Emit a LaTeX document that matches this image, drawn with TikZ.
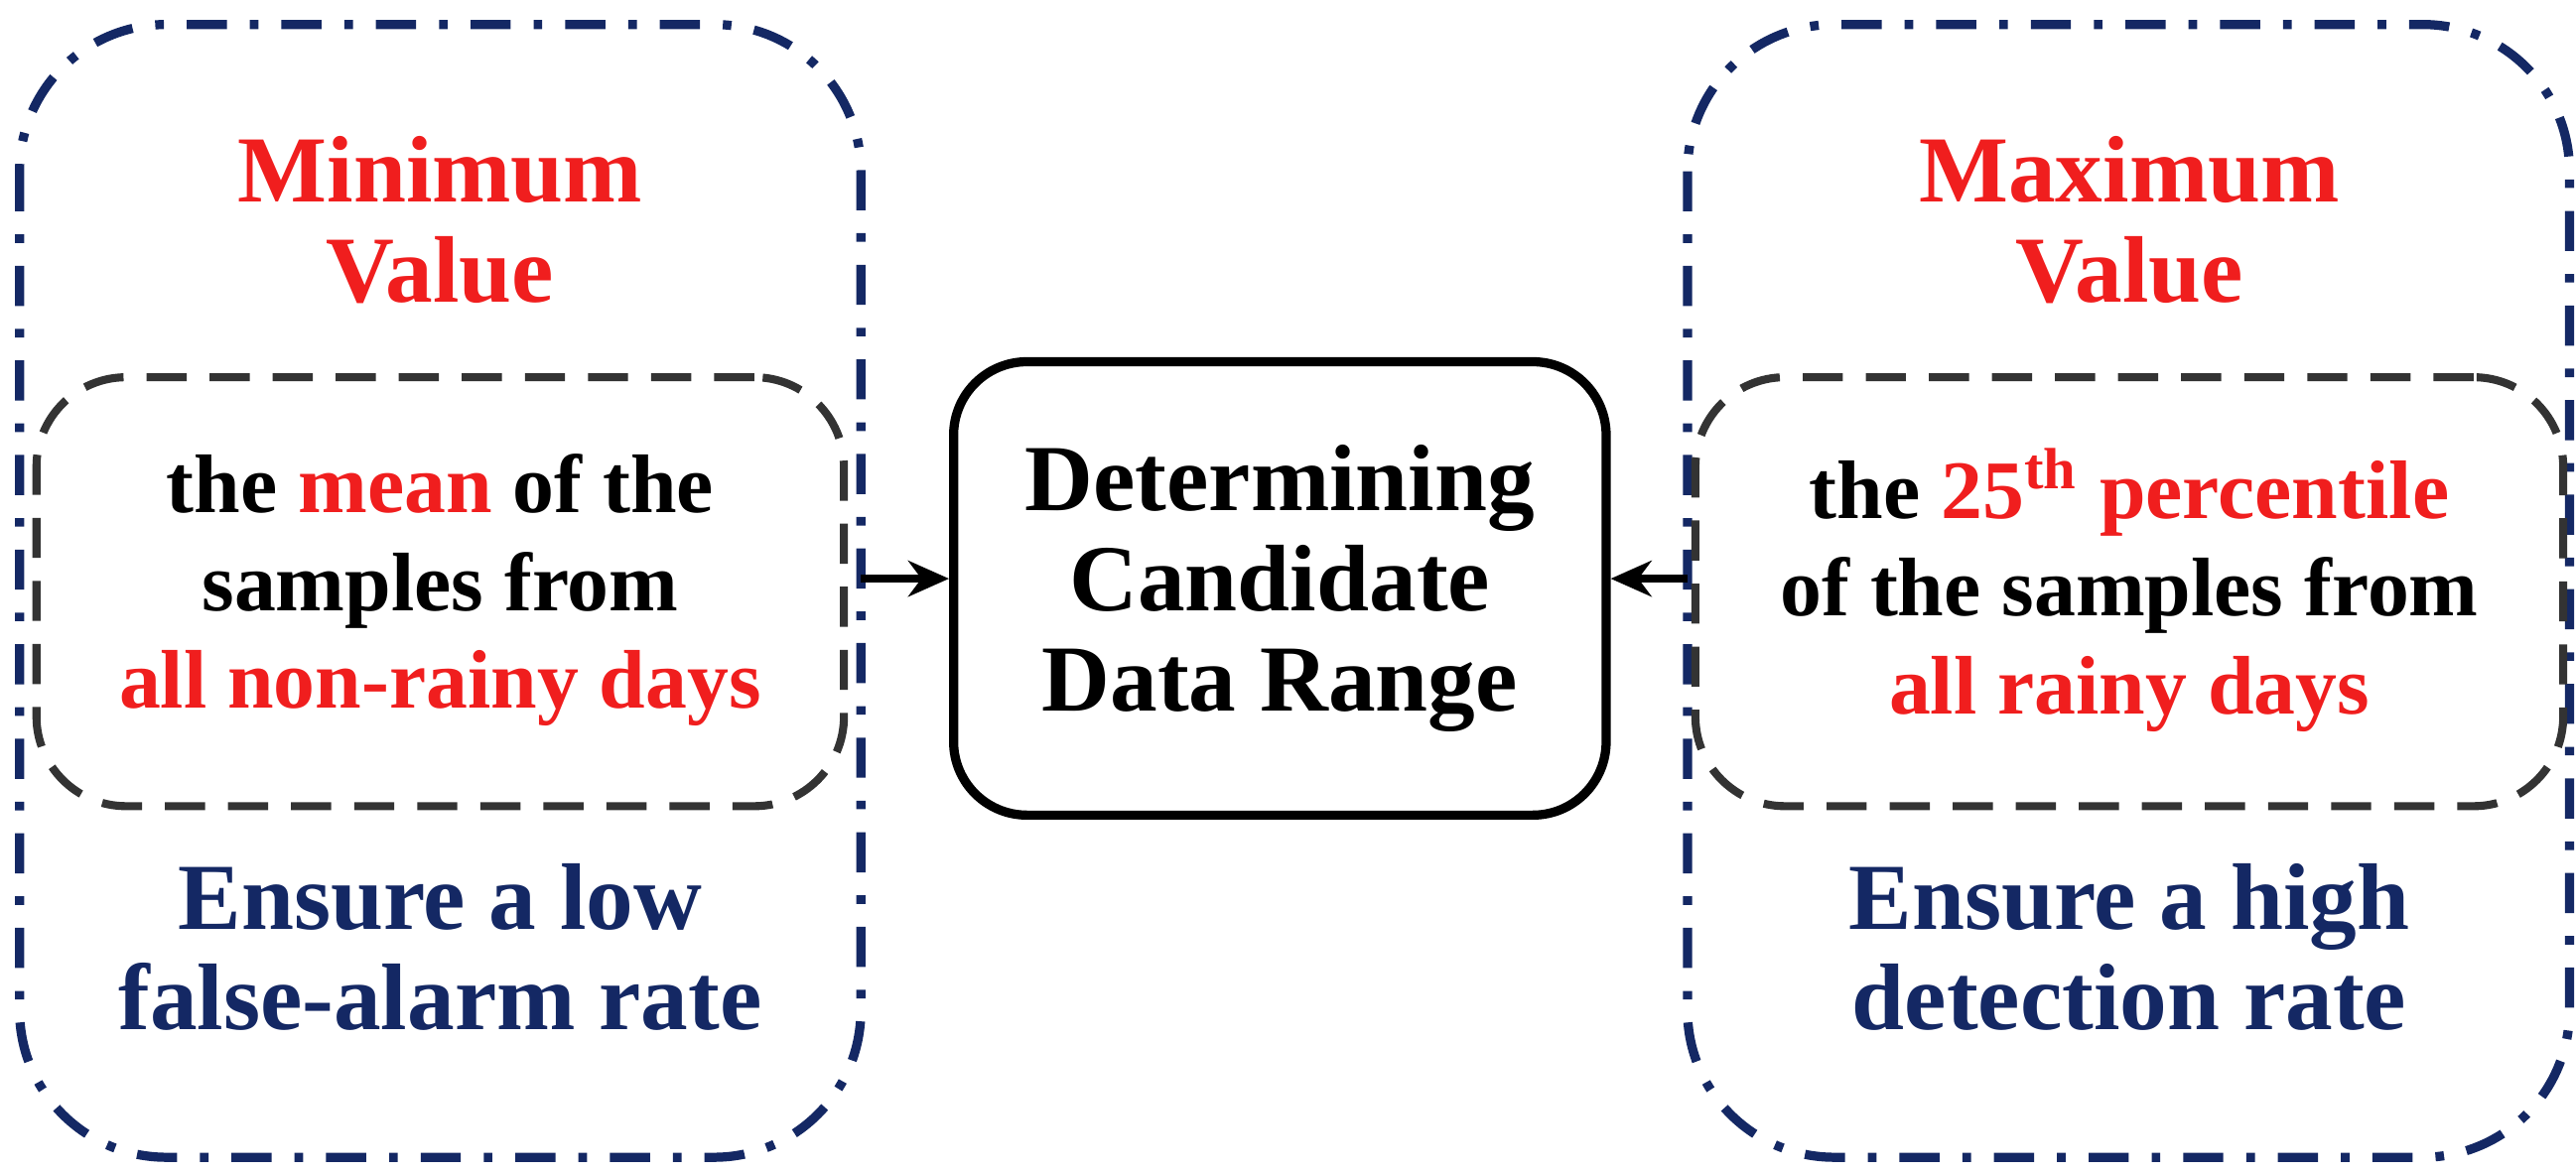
\documentclass[tikz,border=0pt]{standalone}
\usepackage{fontspec}
\setmainfont{Liberation Serif}
\usetikzlibrary{arrows.meta, positioning}
\definecolor{navy}{RGB}{20,40,100}
\definecolor{hired}{RGB}{240,30,30}
\tikzset{
  outer/.style={draw=navy, line width=1.6pt, dash pattern=on 7pt off 4pt on 1.5pt off 4pt, rounded corners=0.9cm},
  inner/.style={draw=black!80, line width=1.4pt, dash pattern=on 7pt off 4pt, rounded corners=0.55cm},
  core/.style={draw=black, line width=1.6pt, rounded corners=0.45cm},
  txt/.style={align=center, font=\bfseries\fontsize{14.5}{17}\selectfont},
  big/.style={align=center, font=\bfseries\fontsize{16.5}{17.5}\selectfont},
  arrow/.style={line width=1.3pt, -{Stealth[length=2.5mm,width=2.2mm]}}
}
\begin{document}
\begin{tikzpicture}[x=0.01cm, y=-0.01cm]
    \useasboundingbox (0,0) rectangle (1580,720);
    % frames
    \draw[outer] (12,15) rectangle (528,710);
    \draw[outer] (1035,15) rectangle (1576,710);
    \node (minbox) [inner, minimum width=4.95cm, minimum height=2.63cm] at (270,363) {};
    \node (maxbox) [inner, minimum width=5.32cm, minimum height=2.63cm] at (1306,363) {};
    \node (range) [core, big, minimum width=4.0cm, minimum height=2.78cm] at (785,361)
      {Determining\\Candidate\\Data Range};

    % left column
    \node (mintitle) [big, text=hired] at (270,135) {Minimum\\Value};
    \node (mintext) [txt] at (270,362) {the \textcolor{hired}{mean} of the\\samples from\\\textcolor{hired}{all non-rainy days}};
    \node (minnote) [big, text=navy] at (270,581) {Ensure a low\\false-alarm rate};

    % right column
    \node (maxtitle) [big, text=hired] at (1306,135) {Maximum\\Value};
    \node (maxtext) [txt] at (1306,362) {the \textcolor{hired}{25\textsuperscript{th} percentile}\\of the samples from\\\textcolor{hired}{all rainy days}};
    \node (maxnote) [big, text=navy] at (1306,581) {Ensure a high\\detection rate};

    % arrows into the centre
    \coordinate (lin) at (528,355);
    \coordinate (rin) at (1035,355);
    \draw[arrow] (lin) -- (range.west |- lin);
    \draw[arrow] (rin) -- (range.east |- rin);
\end{tikzpicture}
\end{document}
